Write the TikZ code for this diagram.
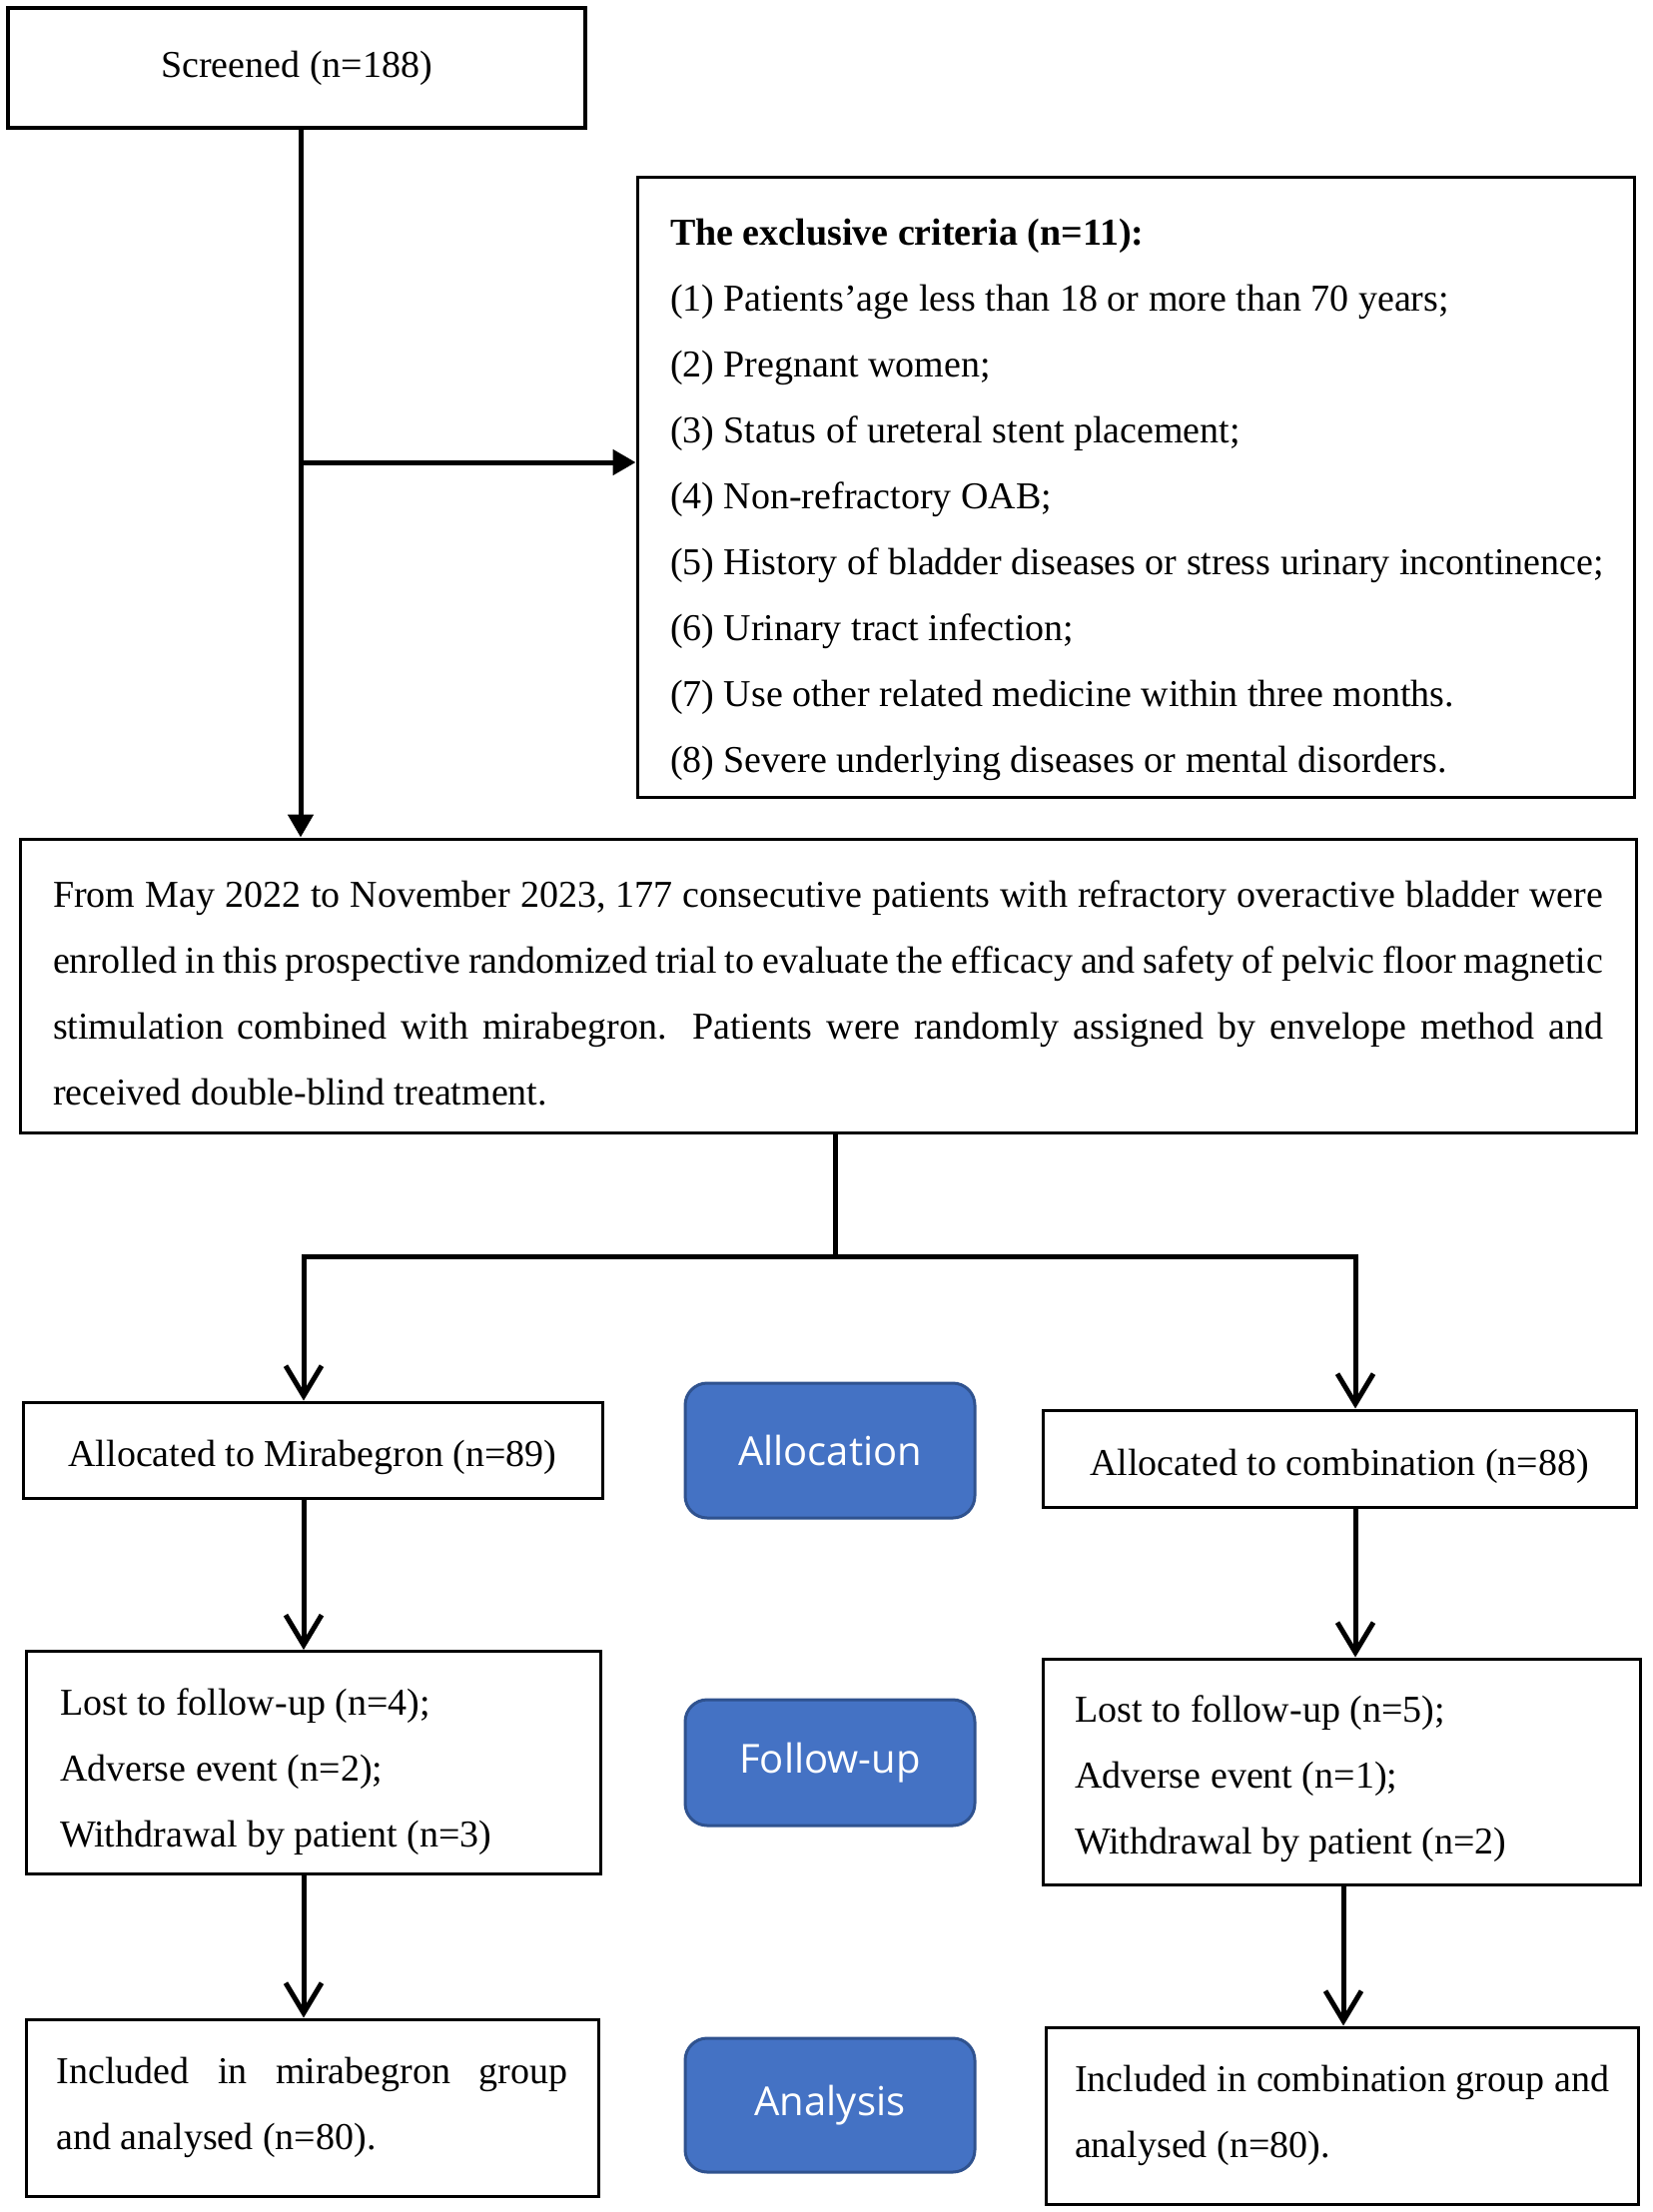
\documentclass[tikz,border=0pt]{standalone}
\usepackage{fontspec}
\setmainfont{Liberation Serif}
\newfontfamily\blufont{Open Sans}
\usetikzlibrary{arrows.meta}
\definecolor{ofblue}{RGB}{68,114,196}
\definecolor{ofedge}{RGB}{47,82,143}
\newcommand\tstr{\rule{0pt}{42pt}}
\newcommand\nsp{\spaceskip=0pt\xspaceskip=0pt\relax}
\begin{document}
\begin{tikzpicture}[x=1pt,y=-1pt,
  box/.style={draw=black, line width=3pt, inner sep=0pt, font=\fontsize{38}{66}\selectfont},
  blu/.style={draw=ofedge, fill=ofblue, line width=3pt, rounded corners=22pt, minimum width=290pt, inner sep=0pt, text=white, font=\blufont\fontsize{40}{48}\selectfont},
  con/.style={line width=5pt},
  tri/.style={con, -{Triangle[length=23pt,width=25pt]}},
  barb/.style={con, -{Straight Barb[length=30pt,width=36pt]}}
]
\useasboundingbox (0,0) rectangle (1654,2215);
\fill[white] (0,0) rectangle (1654,2215);

\node[box, line width=4pt, minimum width=578pt, minimum height=120pt] (scr) at (297,68) {Screened (n=188)};

\node[box, minimum width=998pt, minimum height=620pt, text width=932pt, align=left] (crit) at (1137,488) {\nsp\rule{0pt}{52pt}\textbf{The exclusive criteria (n=11):}\\
(1) Patients’age less than 18 or more than 70 years;\\
(2) Pregnant women;\\
(3) Status of ureteral stent placement;\\
(4) Non-refractory OAB;\\
\mbox{(5) History of bladder diseases or stress urinary incontinence;}\\
(6) Urinary tract infection;\\
(7) Use other related medicine within three months.\\
(8) Severe underlying diseases or mental disorders.};

\node[box, minimum width=1618pt, minimum height=294pt, text width=1552pt, align=left] (big) at (829,987) {\nsp\tstr\makebox[1552pt][s]{From May 2022 to November 2023, 177 consecutive patients with refractory overactive bladder were}\\
\makebox[1552pt][s]{enrolled in this prospective randomized trial to evaluate the efficacy and safety of pelvic floor magnetic}\\
\makebox[1552pt][s]{stimulation combined with mirabegron. Patients were randomly assigned by envelope method and}\\
received double-blind treatment.};

\node[box, minimum width=580pt, minimum height=96pt] (allocL) at (313,1452) {\tstr Allocated to Mirabegron (n=89)};
\node[blu, minimum height=135pt] (allocB) at (831,1452.5) {Allocation};
\node[box, minimum width=594pt, minimum height=97pt] (allocR) at (1341,1460.5) {\tstr Allocated to combination (n=88)};

\node[box, minimum width=575pt, minimum height=223pt, text width=507pt, align=left] (fuL) at (313.5,1765) {\nsp\rule{0pt}{45pt}Lost to follow-up (n=4);\\
Adverse event (n=2);\\
Withdrawal by patient (n=3)};
\node[blu, minimum height=126pt] (fuB) at (831,1765) {Follow-up};
\node[box, minimum width=598pt, minimum height=226pt, text width=534pt, align=left] (fuR) at (1343,1774) {\nsp\tstr Lost to follow-up (n=5);\\
Adverse event (n=1);\\
Withdrawal by patient (n=2)};

\node[box, minimum width=573pt, minimum height=177pt, text width=512pt, align=left] (anL) at (312.5,2110.5) {\nsp\makebox[512pt][s]{Included in mirabegron group}\\
and analysed (n=80).};
\node[blu, minimum height=134pt] (anB) at (831,2108) {Analysis};
\node[box, minimum width=593pt, minimum height=177pt, text width=535pt, align=left] (anR) at (1343.5,2118.5) {\nsp\makebox[535pt][s]{Included in combination group and}\\
analysed (n=80).};

% connectors
\draw[tri] ([xshift=4pt]scr.south) -- ([xshift=4pt]scr.south |- big.north);
\coordinate (br) at (301,463);
\draw[tri] (br) -- (br -| crit.west);
\coordinate (sp) at (836,1258);
\coordinate (spL) at (304,1258);
\coordinate (spR) at (1357,1258);
\draw[con] ([xshift=7pt]big.south) -- (sp);
\draw[barb] (sp) -- (spL) -- (spL |- allocL.north);
\draw[barb] (sp) -- (spR) -- (spR |- allocR.north);
\draw[barb] (allocL.south -| spL) -- (spL |- fuL.north);
\draw[barb] (fuL.south -| spL) -- (spL |- anL.north);
\draw[barb] (allocR.south -| spR) -- (spR |- fuR.north);
\draw[barb] ([xshift=2pt]fuR.south) -- ([xshift=2pt]fuR.south |- anR.north);
\end{tikzpicture}
\end{document}
